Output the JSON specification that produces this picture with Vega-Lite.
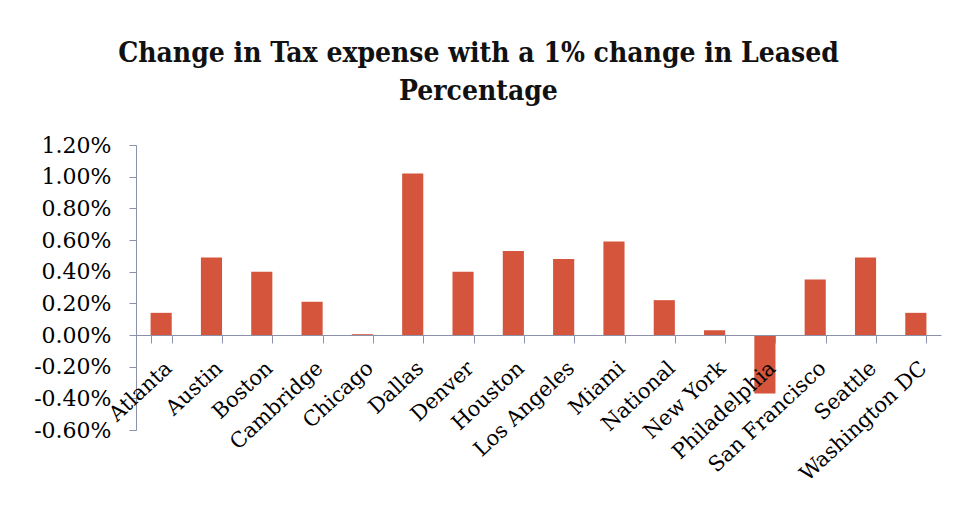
{
  "$schema": "https://vega.github.io/schema/vega-lite/v6.json",
  "width": 805,
  "height": 285,
  "autosize": {"type": "none"},
  "padding": {"left": 136, "top": 145, "right": 22, "bottom": 75},
  "background": "white",
  "title": {
    "text": ["Change in Tax expense with a 1% change in Leased", "Percentage"],
    "font": "DejaVu Serif Condensed",
    "fontSize": 28,
    "fontWeight": "bold",
    "lineHeight": 38,
    "color": "#111111",
    "anchor": "middle",
    "dx": -60,
    "offset": 28
  },
  "data": {
    "values": [
      {"city": "Atlanta", "value": 0.0014},
      {"city": "Austin", "value": 0.0049},
      {"city": "Boston", "value": 0.0040},
      {"city": "Cambridge", "value": 0.0021},
      {"city": "Chicago", "value": 0.00005},
      {"city": "Dallas", "value": 0.0102},
      {"city": "Denver", "value": 0.0040},
      {"city": "Houston", "value": 0.0053},
      {"city": "Los Angeles", "value": 0.0048},
      {"city": "Miami", "value": 0.0059},
      {"city": "National", "value": 0.0022},
      {"city": "New York", "value": 0.0003},
      {"city": "Philadelphia", "value": -0.0037},
      {"city": "San Francisco", "value": 0.0035},
      {"city": "Seattle", "value": 0.0049},
      {"city": "Washington DC", "value": 0.0014}
    ]
  },
  "mark": {"type": "bar", "color": "#d4553b"},
  "encoding": {
    "x": {
      "field": "city",
      "type": "nominal",
      "sort": null,
      "scale": {"paddingInner": 0.58, "paddingOuter": 0.29},
      "axis": {
        "title": null,
        "orient": "bottom",
        "offset": -95,
        "zindex": 1,
        "labelAngle": -43,
        "tickBand": "extent",
        "domainColor": "#8c90a8",
        "tickColor": "#8c90a8",
        "tickSize": 8,
        "labelFont": "DejaVu Serif",
        "labelFontSize": 21,
        "labelFontWeight": "normal",
        "labelColor": "#000000",
        "labelPadding": 14
      }
    },
    "y": {
      "field": "value",
      "type": "quantitative",
      "scale": {"domain": [-0.006, 0.012], "nice": false, "zero": false},
      "axis": {
        "title": null,
        "values": [-0.006, -0.004, -0.002, 0, 0.002, 0.004, 0.006, 0.008, 0.01, 0.012],
        "grid": false,
        "labelExpr": "replace(format(datum.value, '.2%'), '\u2212', '-')",
        "labelFont": "DejaVu Serif",
        "labelFontSize": 22,
        "labelColor": "#000000",
        "domainColor": "#8c90a8",
        "tickColor": "#8c90a8",
        "tickSize": 7,
        "labelPadding": 18
      }
    }
  },
  "config": {"view": {"stroke": null}}
}
